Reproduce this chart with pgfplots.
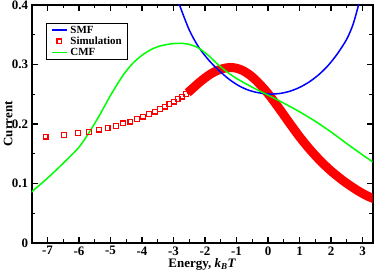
\documentclass[border=0pt]{standalone}
\usepackage{fontspec}
\setmainfont{Liberation Serif}
\usepackage{pgfplots}
\pgfplotsset{compat=1.18}
\begin{document}
\begin{tikzpicture}
\begin{axis}[
 scale only axis, width=341bp, height=238bp,
 xmin=-7.5, xmax=3.32, ymin=0, ymax=0.4,
 xtick={-7,-6,-5,-4,-3,-2,-1,0,1,2,3},
 xticklabels={-7,-6,-5,-4,-3,-2,-1,0,1,2,3},
 ytick={0,0.1,0.2,0.3,0.4},
 yticklabels={0,0.1,0.2,0.3,0.4},
 minor x tick num=1, minor y tick num=1,
 tick align=inside,
 major tick length=6bp, minor tick length=3.5bp,
 axis line style={line width=1.9bp},
 major tick style={black, line width=1.4bp},
 minor tick style={black, line width=1.2bp},
 ticklabel style={font=\fontsize{13}{13}\selectfont\bfseries},
 label style={font=\fontsize{13}{13}\selectfont\bfseries},
 xlabel={Energy, \textit{k}\textsubscript{\textit{B}}\textit{T}},
 xlabel style={at={(rel axis cs:0.5,0)}, anchor=base, yshift=-25bp},
 ylabel={Current},
 ylabel style={at={(rel axis cs:0,0.5)}, anchor=north, yshift=31.5bp},
 legend image code/.code={\draw[mark repeat=2,mark phase=2,#1] plot coordinates {(0bp,0bp) (7.5bp,0bp) (15bp,0bp)}; \path (17bp,0bp);},
 legend style={at={(0.041,0.926)}, anchor=north west, draw=black, line width=1bp,
   font=\fontsize{11}{11}\selectfont\bfseries, inner xsep=5bp, inner ysep=1.5bp,
   nodes={inner sep=0.8bp, text height=7.6bp, text depth=2bp}},
 legend cell align=left,
]
\addplot[red, only marks, mark=square, mark size=2.4bp, line width=1.2bp, forget plot] coordinates {
(-7.06,0.1787) (-6.47,0.1815) (-6.03,0.1844) (-5.68,0.187) (-5.36,0.1905) (-5.09,0.1937)
(-4.83,0.197) (-4.60,0.201) (-4.37,0.2039) (-4.16,0.2079) (-3.96,0.2123) (-3.77,0.2163)
(-3.59,0.2207) (-3.42,0.2247) (-3.27,0.2291) (-3.13,0.2336) (-2.99,0.2375) (-2.87,0.242)
(-2.73,0.2459) (-2.60,0.2504) (-2.49,0.2555) (-2.38,0.2605) (-2.28,0.265)
};
\addplot[red, line width=9bp, smooth, forget plot] coordinates {
(-2.55,0.2525) (-2.4,0.2595) (-2.2,0.269) (-2.0,0.2775) (-1.8,0.2848) (-1.6,0.2902)
(-1.4,0.2935) (-1.2,0.295) (-1.0,0.2937) (-0.8,0.2898) (-0.6,0.2832) (-0.4,0.2742)
(-0.2,0.2632) (0.0,0.251) (0.2,0.2372) (0.4,0.2225) (0.6,0.2075) (0.8,0.1928)
(1.0,0.1785) (1.2,0.1652) (1.4,0.1528) (1.6,0.1413) (1.8,0.1307) (2.0,0.121)
(2.2,0.1122) (2.4,0.1040) (2.6,0.0965) (2.8,0.0895) (3.0,0.0832) (3.2,0.0778) (3.4,0.0735)
};
\addplot[blue, line width=1.5bp, smooth, forget plot] coordinates {
(-3.0,0.428) (-2.81,0.400) (-2.5,0.358) (-2.2,0.329) (-1.86,0.306) (-1.54,0.289)
(-1.22,0.2745) (-0.9,0.2635) (-0.6,0.2565) (-0.3,0.2525) (0.0,0.2505) (0.1,0.2502)
(0.4,0.2515) (0.7,0.2552) (1.0,0.2615) (1.3,0.2705) (1.6,0.2825) (1.9,0.298)
(2.2,0.318) (2.5,0.343) (2.7,0.368) (2.87,0.400) (3.0,0.428)
};
\addplot[green, line width=1.5bp, smooth, forget plot] coordinates {
(-7.6,0.082) (-7.5,0.086) (-7.0,0.109) (-6.5,0.134) (-6.0,0.161) (-5.67,0.1865)
(-5.35,0.2145) (-5.0,0.248) (-4.6,0.282) (-4.3,0.3015) (-4.0,0.3155) (-3.7,0.3255)
(-3.4,0.3315) (-3.1,0.3345) (-2.8,0.3357) (-2.5,0.3338) (-2.2,0.3275) (-1.9,0.3155)
(-1.6,0.3005) (-1.3,0.2875) (-1.0,0.2765) (-0.5,0.2618) (0.0,0.2485) (0.5,0.235)
(1.0,0.2205) (1.5,0.2045) (2.0,0.1865) (2.5,0.167) (3.0,0.148) (3.4,0.1335)
};
\addlegendimage{blue, line width=1.5bp}
\addlegendentry{SMF}
\addlegendimage{red, only marks, mark=square, mark size=2.4bp, line width=1.2bp}
\addlegendentry{Simulation}
\addlegendimage{green, line width=1.5bp}
\addlegendentry{CMF}
\end{axis}
\pgfresetboundingbox
\path ([shift={(-31.7bp,-31bp)}]current axis.south west) rectangle ([shift={(1.3bp,5bp)}]current axis.north east);
\end{tikzpicture}
\end{document}
